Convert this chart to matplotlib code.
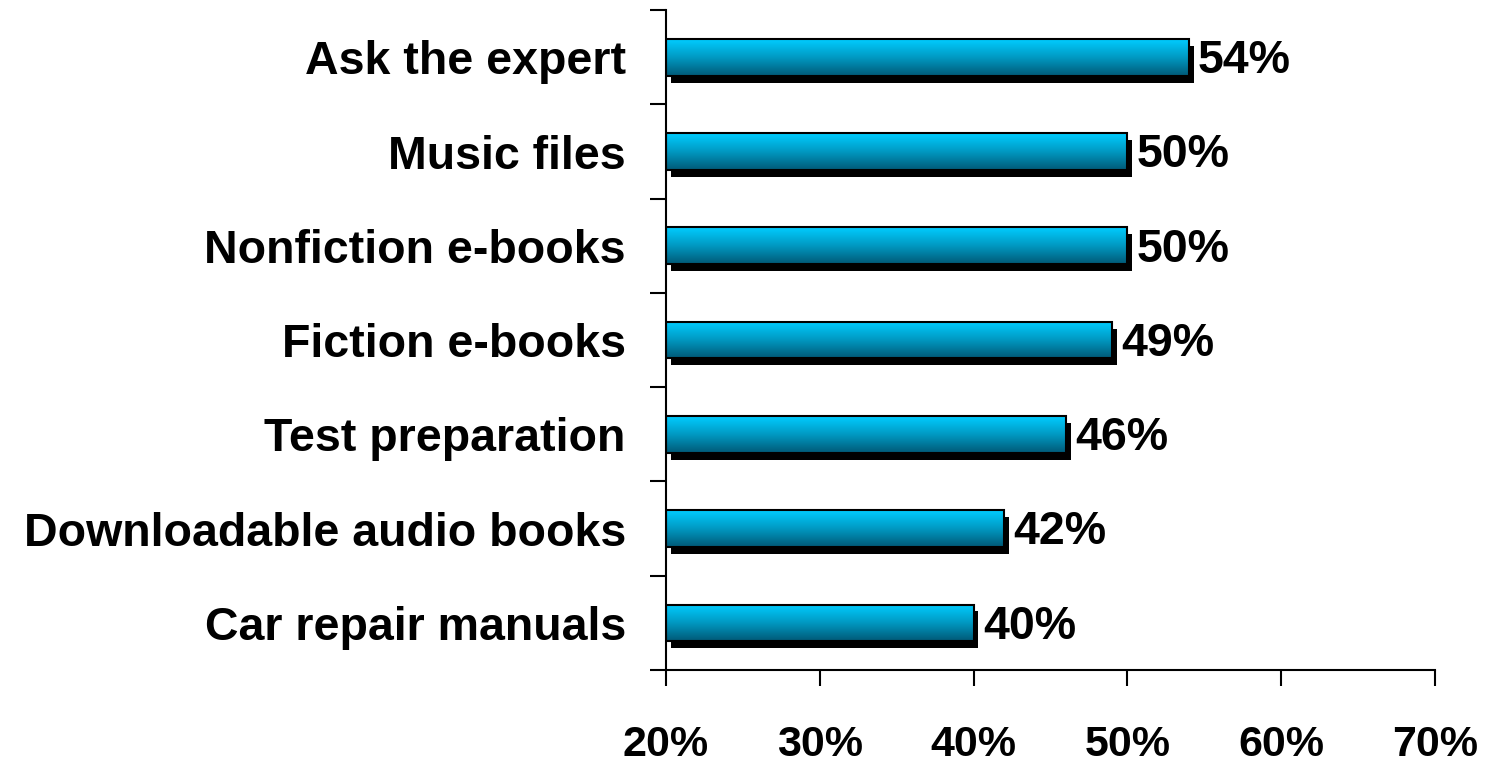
import numpy as np
import matplotlib.pyplot as plt
import matplotlib.patheffects as pe
from matplotlib.colors import LinearSegmentedColormap

plt.rcParams['font.family'] = ['Liberation Sans', 'DejaVu Sans']
plt.rcParams['font.weight'] = 'bold'

categories = ["Car repair manuals", "Downloadable audio books", "Test preparation",
              "Fiction e-books", "Nonfiction e-books", "Music files", "Ask the expert"]
values = [40, 42, 46, 49, 50, 50, 54]
x_ticks = [20, 30, 40, 50, 60, 70]

fig = plt.figure(figsize=(14.9, 7.62), dpi=100)
ax = fig.add_axes([0.447, 0.1207, 0.516, 0.866])

pos = np.arange(len(categories))
base = 20
bars = ax.barh(pos, [v - base for v in values], left=base, height=0.39,
               facecolor='none', edgecolor='black', linewidth=1.5, zorder=3)

# cyan-to-teal vertical fill, clipped to each bar, with a hard black drop shadow
grad_cmap = LinearSegmentedColormap.from_list('bar', ['#00ccff', '#0099c2', '#005a78'])
grad = np.linspace(0, 1, 64).reshape(-1, 1)
for b in bars:
    x0, y0 = b.get_x(), b.get_y()
    w, h = b.get_width(), b.get_height()
    shadow = plt.Rectangle((x0, y0), w, h, facecolor='black', edgecolor='none', zorder=1,
                           path_effects=[pe.withSimplePatchShadow(offset=(3.5, -5), shadow_rgbFace='black', alpha=1.0)])
    ax.add_patch(shadow)
    im = ax.imshow(grad, cmap=grad_cmap, aspect='auto', extent=(x0, x0 + w, y0, y0 + h),
                   origin='upper', zorder=2)
    im.set_clip_path(b)

for p, v in zip(pos, values):
    ax.text(v + 0.6, p - 0.04, f"{v}%", va='center', ha='left', fontsize=33.5, fontweight='bold')

ax.set_xlim(20, 70)
ax.set_ylim(-0.5, 6.5)
ax.set_xticks(x_ticks)
ax.set_xticklabels([f"{t}%" for t in x_ticks], fontsize=31, fontweight='bold')
ax.tick_params(axis='x', length=11.5, width=1.5, pad=28, direction='out')

ax.set_yticks(pos)
ax.set_yticklabels(categories, fontsize=33.5, fontweight='bold')
ax.set_yticks(np.arange(-0.5, 7, 1), minor=True)
ax.tick_params(axis='y', which='major', length=0, pad=29)
ax.tick_params(axis='y', which='minor', length=11.5, width=1.5, direction='out')

for s in ['top', 'right']:
    ax.spines[s].set_visible(False)
for s in ['left', 'bottom']:
    ax.spines[s].set_linewidth(1.5)

fig.savefig('out.png', dpi=100)
